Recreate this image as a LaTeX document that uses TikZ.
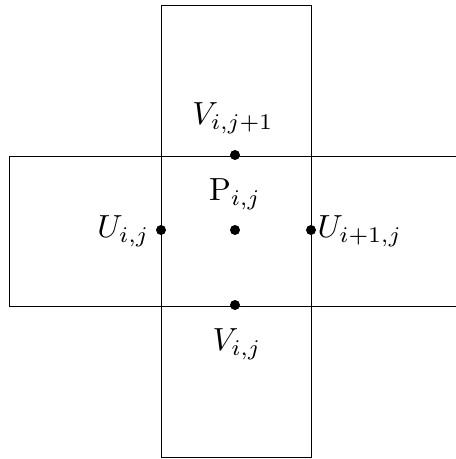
\documentclass[tikz,border=0pt]{standalone}
\begin{document}
\begin{tikzpicture}[x=1pt,y=1pt,
  dotnode/.style={circle,fill=black,inner sep=0pt,minimum size=10pt},
  lbl/.style={inner sep=0pt,scale=3.2}]
\useasboundingbox (0,0) rectangle (456,459);
\begin{scope}
\clip (0,0) rectangle (456,459);
\draw[line width=0.9pt] (161,2) rectangle (311,454);
\draw[line width=0.9pt] (9,153) rectangle (461,303);
\end{scope}
\node[dotnode] (vt) at (235,304) {};
\node[dotnode] (ul) at (161,229) {};
\node[dotnode] (pc) at (235,229) {};
\node[dotnode] (ur) at (311,229) {};
\node[dotnode] (vb) at (235,154) {};
\node[lbl,anchor=base] (lvt) at (233,334) {$V_{i,j+1}$};
\node[lbl,anchor=base] (lpc) at (235,258) {$\mathrm{P}_{i,j}$};
\node[lbl,anchor=base east] (lul) at (150,221) {$U_{i,j}$};
\node[lbl,anchor=base west] (lur) at (317,221) {$U_{i+1,j}$};
\node[lbl,anchor=base] (lvb) at (237,108) {$V_{i,j}$};
\end{tikzpicture}
\end{document}
